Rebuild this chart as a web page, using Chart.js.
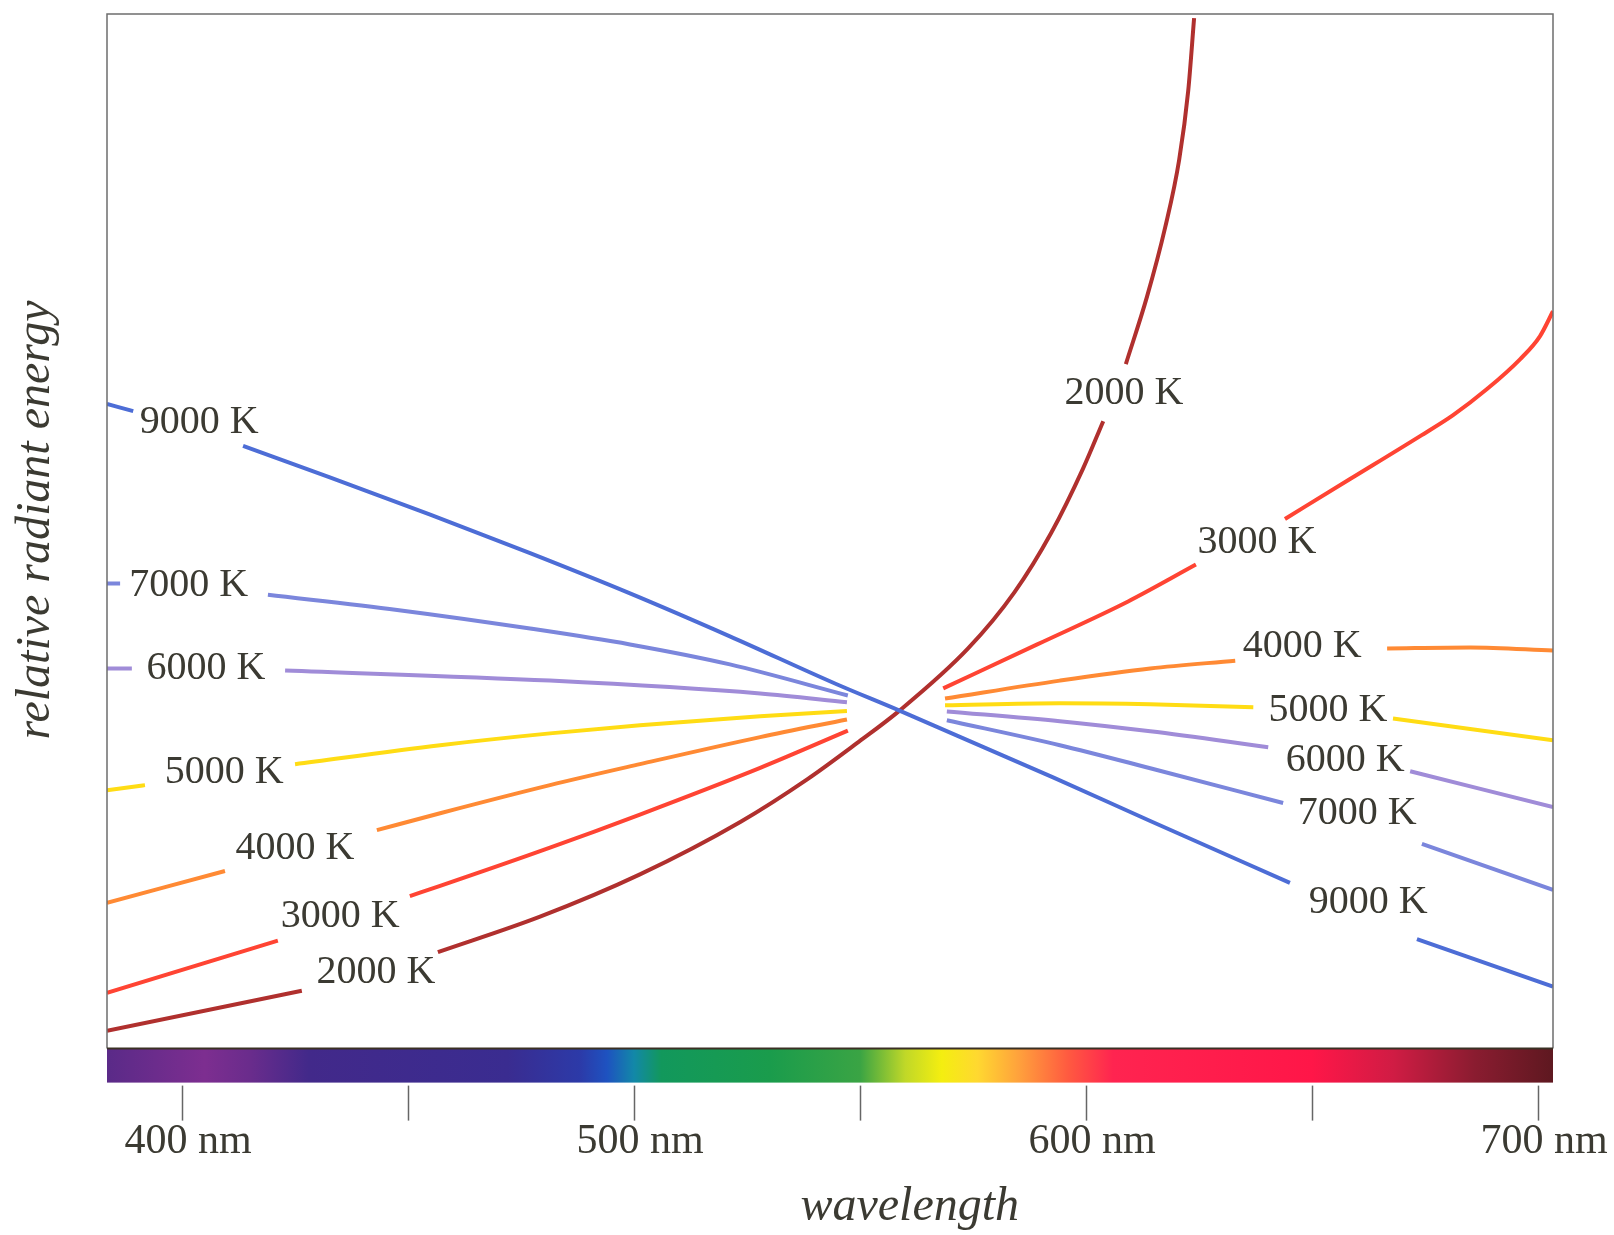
<!DOCTYPE html>
<html>
<head>
<meta charset="utf-8">
<script src="https://cdn.jsdelivr.net/npm/chart.js@4"></script>
<style>
  html, body { margin: 0; padding: 0; background: #fff; }
</style>
</head>
<body>
<canvas id="chart" width="1614" height="1235"></canvas>
<script>
// CURVES: wavelength (nm) and relative energy (1 = crossing near 559 nm); null = gap in the line
const nm9000 = [383.4, 389.2, null, 413.5, 432.7, 454.9, 477.0, 499.1, 521.2, 544.7, 558.6, 592.7, 614.2, 645.1, null, 673.2, 703.3];
const e9000  = [1.906, 1.885, null, 1.782, 1.689, 1.579, 1.465, 1.346, 1.219, 1.078, 1.000, 0.802, 0.673, 0.490, null, 0.324, 0.183];

const nm7000 = [383.4, 386.3, null, 419.0, 447.6, 477.0, 499.1, 521.2, 547.3, null, 569.2, 594.2, 614.2, 643.6, null, 674.3, 703.3];
const e7000  = [1.375, 1.375, null, 1.342, 1.297, 1.242, 1.195, 1.136, 1.044, null, 0.971, 0.897, 0.829, 0.726, null, 0.605, 0.469];

const nm6000 = [383.4, 388.9, null, 422.8, 481.4, 527.9, 547.1, null, 569.2, 594.2, 614.2, 640.3, null, 671.7, 703.3];
const e6000  = [1.124, 1.124, null, 1.118, 1.088, 1.050, 1.024, null, 0.997, 0.968, 0.938, 0.891, null, 0.820, 0.714];

const nm5000 = [383.4, 391.8, null, 425.0, 457.1, 481.4, 501.3, 527.9, 547.1, null, 568.8, 594.2, 614.2, 637.0, null, 667.9, 703.3];
const e5000  = [0.764, 0.779, null, 0.841, 0.897, 0.932, 0.956, 0.983, 0.998, null, 1.015, 1.021, 1.018, 1.009, null, 0.976, 0.912];

const nm4000 = [383.4, 409.5, null, 443.1, 457.1, 481.4, 501.3, 527.9, 547.1, null, 568.8, 594.2, 614.2, 633.0, null, 666.6, 685.0, 703.3];
const e4000  = [0.431, 0.525, null, 0.646, 0.696, 0.779, 0.841, 0.921, 0.973, null, 1.035, 1.088, 1.124, 1.147, null, 1.183, 1.186, 1.177];

const nm3000 = [383.4, 421.2, null, 450.4, 457.1, 481.4, 501.3, 527.9, 547.3, null, 568.4, 589.2, 609.3, 624.3, null, 644.0, 658.4, 673.9, 681.2, 688.7, 696.0, 700.4, 703.3];
const e3000  = [0.165, 0.319, null, 0.451, 0.481, 0.594, 0.692, 0.830, 0.940, null, 1.065, 1.195, 1.322, 1.431, null, 1.566, 1.684, 1.811, 1.873, 1.950, 2.038, 2.106, 2.180];

const nm2000 = [383.4, 426.5, null, 456.6, 479.2, 501.3, 523.5, 538.3, 549.3, 558.8, 573.9, 584.1, 592.3, 599.3, 603.8, null, 608.8, 613.5, 617.5, 620.6, 622.6, 623.9];
const e2000  = [0.053, 0.171, null, 0.285, 0.390, 0.515, 0.670, 0.796, 0.903, 1.000, 1.183, 1.348, 1.525, 1.714, 1.855, null, 2.024, 2.224, 2.428, 2.628, 2.832, 3.047];

const curveNames  = ['9000 K', '7000 K', '6000 K', '5000 K', '4000 K', '3000 K', '2000 K'];
const curveNm     = [nm9000, nm7000, nm6000, nm5000, nm4000, nm3000, nm2000];
const curveE      = [e9000, e7000, e6000, e5000, e4000, e3000, e2000];
const curveColors = ['#4d6dd6', '#7b86dc', '#a08cd8', '#ffdc14', '#ff8a34', '#ff4433', '#b0302e'];

// INLINE LABELS (placed on the curves)
const labelText = ['9000 K', '9000 K', '7000 K', '7000 K', '6000 K', '6000 K', '5000 K', '5000 K', '4000 K', '4000 K', '3000 K', '3000 K', '2000 K', '2000 K'];
const labelNm   = [403.8, 662.4, 401.5, 660.0, 405.3, 657.3, 409.3, 653.5, 425.0, 647.8, 435.0, 637.8, 442.9, 608.4];
const labelE    = [1.850, 0.431, 1.369, 0.696, 1.124, 0.853, 0.817, 1.000, 0.593, 1.189, 0.392, 1.496, 0.224, 1.938];

// X AXIS TICKS
const tickNm = [400, 450, 500, 550, 600, 650, 700];

// SPECTRUM STRIP
const specNm  = [383.4, 405, 415, 428, 472, 488, 494, 500, 506, 530, 550, 560, 568, 576, 585, 596, 606, 650, 668, 686, 703.3];
const specCol = ['#5a2a88', '#7d2e90', '#6a2c8c', '#42298a', '#3a2c90', '#2c3aa8', '#1e52c0', '#1288a8', '#12985c', '#1a9c4c', '#3aa444',
                 '#c0d828', '#f4ee10', '#ffd830', '#ffa23c', '#ff5a40', '#ff2450', '#ff1648', '#d01c44', '#8a1c30', '#5e1820'];

const SERIF = "'Liberation Serif', 'Times New Roman', serif";
const TEXT = '#3b3a32';

const datasets = curveNames.map((name, i) => ({
  label: name,
  data: curveNm[i].map((x, j) => ({ x: x, y: curveE[i][j] })),
  borderColor: curveColors[i],
  backgroundColor: curveColors[i],
  borderWidth: 4,
  pointRadius: 0,
  fill: false,
  spanGaps: false,
  cubicInterpolationMode: 'monotone'
}));

// plot frame, spectrum strip, tick marks, inline labels, axis titles
const decor = {
  id: 'decor',
  afterDatasetsDraw(chart) {
    const { ctx, scales: { x, y } } = chart;
    ctx.save();
    ctx.font = `40px ${SERIF}`;
    ctx.fillStyle = TEXT;
    ctx.textAlign = 'center';
    ctx.textBaseline = 'middle';
    labelText.forEach((t, i) => {
      ctx.fillText(t, x.getPixelForValue(labelNm[i]), y.getPixelForValue(labelE[i]));
    });
    ctx.restore();
  },
  afterDraw(chart) {
    const { ctx, chartArea: a, scales: { x } } = chart;
    ctx.save();
    // frame
    ctx.strokeStyle = '#6e6e6e';
    ctx.lineWidth = 1.5;
    ctx.beginPath();
    ctx.moveTo(a.left, a.bottom);
    ctx.lineTo(a.left, a.top);
    ctx.lineTo(a.right, a.top);
    ctx.lineTo(a.right, a.bottom);
    ctx.stroke();

    // spectrum
    const barTop = a.bottom, barH = 34;
    const g = ctx.createLinearGradient(a.left, 0, a.right, 0);
    specNm.forEach((v, i) => {
      g.addColorStop((x.getPixelForValue(v) - a.left) / (a.right - a.left), specCol[i]);
    });
    ctx.fillStyle = g;
    ctx.fillRect(a.left, barTop, a.right - a.left, barH);
    ctx.strokeStyle = '#3a3024';
    ctx.lineWidth = 2;
    ctx.beginPath();
    ctx.moveTo(a.left, barTop);
    ctx.lineTo(a.right, barTop);
    ctx.stroke();

    // tick marks
    ctx.strokeStyle = '#666';
    ctx.lineWidth = 1.5;
    tickNm.forEach(v => {
      const px = Math.round(x.getPixelForValue(v)) + 0.5;
      ctx.beginPath();
      ctx.moveTo(px, barTop + barH + 3);
      ctx.lineTo(px, barTop + barH + 38);
      ctx.stroke();
    });

    // axis titles
    ctx.font = `italic 48px ${SERIF}`;
    ctx.fillStyle = TEXT;
    ctx.textAlign = 'center';
    ctx.textBaseline = 'middle';
    ctx.fillText('wavelength', x.getPixelForValue(561), 1207);
    ctx.translate(36, 520);
    ctx.rotate(-Math.PI / 2);
    ctx.fillText('relative radiant energy', 0, 0);
    ctx.restore();
  }
};

new Chart(document.getElementById('chart').getContext('2d'), {
  type: 'line',
  data: { datasets: datasets },
  options: {
    responsive: false,
    animation: false,
    layout: { padding: { left: 0, top: 14, right: 61, bottom: 0 } },
    plugins: { legend: { display: false }, tooltip: { enabled: false } },
    scales: {
      x: {
        type: 'linear',
        min: 383.4,
        max: 703.3,
        grid: { display: false, drawTicks: false },
        border: { display: false },
        afterBuildTicks: s => { s.ticks = tickNm.map(v => ({ value: v })); },
        afterFit: s => { s.paddingLeft = 0; s.paddingRight = 0; },
        ticks: {
          autoSkip: false,
          maxRotation: 0,
          padding: 68,
          labelOffset: 6,
          color: TEXT,
          font: { family: SERIF, size: 42 },
          callback: v => (v % 100 === 0 ? v + ' nm' : '')
        }
      },
      y: {
        min: 0,
        max: 3.059,
        grid: { display: false, drawTicks: false },
        border: { display: false },
        ticks: { display: false },
        afterFit: s => { s.width = 107; }
      }
    }
  },
  plugins: [decor]
});
</script>
</body>
</html>
